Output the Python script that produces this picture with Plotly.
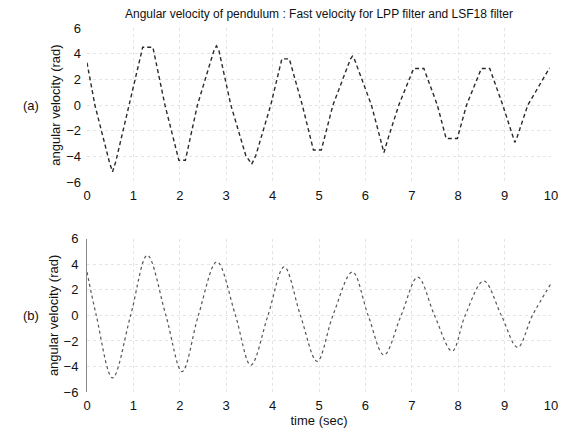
import plotly.graph_objects as go
from plotly.subplots import make_subplots

# (a) LPP filter output: key points (time, angular velocity)
t_a = [0, 0.17, 0.48, 0.55, 0.62, 0.91, 1.2, 1.42, 1.68, 1.98, 2.12, 2.38, 2.74, 2.79, 2.84,
       3.1, 3.42, 3.55, 3.64, 3.96, 4.2, 4.36, 4.64, 4.88, 5.05, 5.3, 5.68, 5.72, 5.76,
       6.13, 6.32, 6.4, 6.48, 6.72, 7.04, 7.26, 7.55, 7.74, 7.98, 8.18, 8.5, 8.68, 8.96,
       9.18, 9.22, 9.26, 9.5, 9.97]
v_a = [3.3, 0, -4.4, -5.2, -4.4, 0, 4.5, 4.5, 0, -4.3, -4.3, 0, 4.3, 4.6, 4.3,
       0, -3.9, -4.6, -3.9, 0, 3.6, 3.6, 0, -3.5, -3.5, 0, 3.6, 3.8, 3.6,
       0, -2.7, -3.7, -2.7, 0, 2.85, 2.85, 0, -2.6, -2.6, 0, 2.85, 2.85, 0,
       -2.6, -2.9, -2.6, 0, 2.9]

# (b) LSF18 filter output: peaks, troughs and zero crossings
t_b = [0, 0.2, 0.55, 0.94, 1.3, 1.7, 2.05, 2.4, 2.8, 3.2, 3.53, 3.9, 4.25, 4.6, 4.96,
       5.3, 5.72, 6.06, 6.4, 6.77, 7.13, 7.49, 7.87, 8.15, 8.55, 8.93, 9.28, 9.6, 10]
v_b = [3.4, 0, -4.9, 0, 4.7, 0, -4.4, 0, 4.2, 0, -3.9, 0, 3.8, 0, -3.6,
       0, 3.4, 0, -3.1, 0, 3.0, 0, -2.8, 0, 2.7, 0, -2.5, 0, 2.5]

x_ticks = [0, 1, 2, 3, 4, 5, 6, 7, 8, 9, 10]
y_ticks = [-6, -4, -2, 0, 2, 4, 6]

title_text = "Angular velocity of pendulum : Fast velocity for LPP filter and LSF18 filter"
y_label = "angular velocity (rad)"
x_label = "time (sec)"

FONT = "Liberation Sans, Arial, Helvetica, sans-serif"

fig = make_subplots(rows=2, cols=1, vertical_spacing=0.0)

fig.add_trace(go.Scatter(x=t_a, y=v_a, mode="lines",
                         line=dict(color="#2a2a2a", width=1.4, dash="4px,3px"),
                         showlegend=False), row=1, col=1)
fig.add_trace(go.Scatter(x=t_b, y=v_b, mode="lines", line_shape="spline",
                         line=dict(color="#555555", width=1.2, dash="dot"),
                         showlegend=False), row=2, col=1)

ax_common = dict(range=[0, 10], tickvals=x_ticks, showgrid=True, gridcolor="#e4e4e4",
                 griddash="dot", gridwidth=1, zeroline=False, ticks="",
                 ticklabelstandoff=4,
                 tickfont=dict(family=FONT, size=13, color="#111"), showline=False)
ay_common = dict(range=[-6, 6], tickvals=y_ticks, showgrid=True, gridcolor="#e4e4e4",
                 griddash="dot", gridwidth=1, zeroline=False, ticks="",
                 ticklabelstandoff=5,
                 tickfont=dict(family=FONT, size=13, color="#111"),
                 title=dict(text=y_label, font=dict(family=FONT, size=13, color="#111"), standoff=2))

fig.update_xaxes(**ax_common)
fig.update_yaxes(**ay_common)
fig.update_xaxes(title=dict(text=x_label, font=dict(family=FONT, size=13, color="#111"), standoff=0), row=2, col=1)
fig.update_yaxes(showline=True, linecolor="#888", linewidth=1, row=2, col=1)

fig.update_layout(
    width=570, height=434,
    margin=dict(l=87, r=13, t=28, b=40),
    paper_bgcolor="white", plot_bgcolor="white",
    xaxis=dict(domain=[0, 1]), yaxis=dict(domain=[0.5765, 1]),
    xaxis2=dict(domain=[0, 1]), yaxis2=dict(domain=[0, 0.4208]),
    annotations=[
        dict(text=title_text, xref="paper", yref="paper", x=0.5, y=1, yshift=14,
             showarrow=False, yanchor="middle", font=dict(family=FONT, size=12, color="#111")),
        dict(text="(a)", xref="paper", yref="y", x=-0.143, y=0, showarrow=False,
             font=dict(family=FONT, size=13, color="#111")),
        dict(text="(b)", xref="paper", yref="y2", x=-0.143, y=0, showarrow=False,
             font=dict(family=FONT, size=13, color="#111")),
    ],
)

fig.write_html("out.html")
